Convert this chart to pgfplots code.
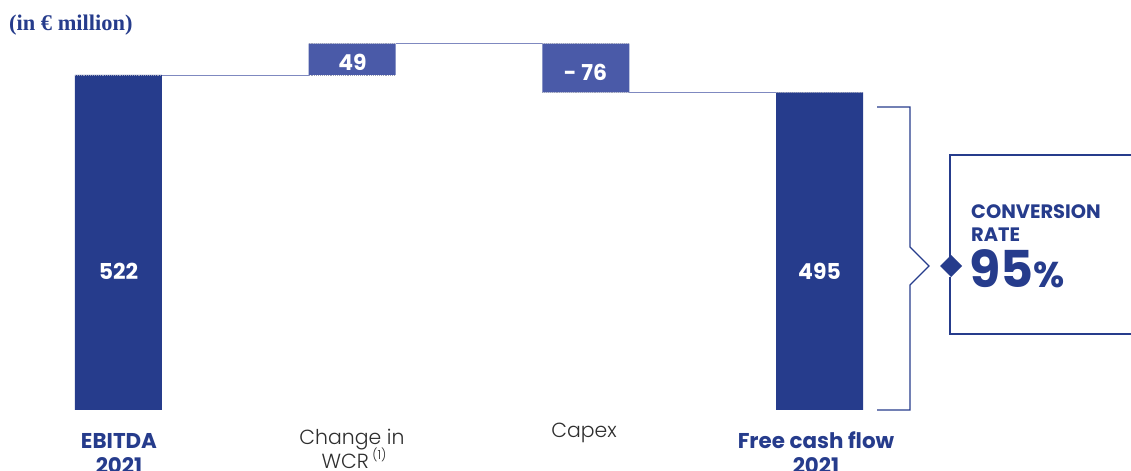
\documentclass[border=0pt]{standalone}
\usepackage{pgfplots}
\pgfplotsset{compat=1.18}
\usepackage{pgfplotstable}
\usepackage{fontspec}
\setmainfont{Poppins}
\newfontfamily\titlefont{Liberation Serif}
\newfontfamily\lightfont{Poppins Light}
\definecolor{navy}{HTML}{263C8C}
\definecolor{lightbar}{HTML}{4A5AA8}
\definecolor{conn}{HTML}{7F89C0}
\definecolor{dotgray}{HTML}{9A9FB8}
\definecolor{labgray}{HTML}{2E2E2E}

\pgfplotstableread{
x base dark light
0 0 522 0
1 522 0 49
2 495 0 76
3 0 495 0
}\wfdata

\begin{document}
\begin{tikzpicture}
\begin{axis}[at={(0,0)}, anchor=north west, scale only axis, width=1131bp, height=471bp,
 xmin=-0.5071, xmax=4.3330, ymin=-95.05, ymax=638.8, hide axis, clip=false,
 ybar stacked, bar width=87bp]
\addplot[draw=none, fill=none] table[x=x,y=base]{\wfdata};
\addplot[draw=none, fill=navy] table[x=x,y=dark]{\wfdata};
\addplot[draw=none, fill=lightbar] table[x=x,y=light]{\wfdata};
\end{axis}
\begin{axis}[at={(0,0)}, anchor=north west, scale only axis, width=1131bp, height=471bp,
 xmin=-0.5071, xmax=4.3330, ymin=-95.05, ymax=638.8, hide axis, clip=false]
\addplot[conn, line width=0.8bp, no marks] coordinates {(0.1862,522) (0.8138,522)};
\addplot[conn, line width=0.8bp, no marks] coordinates {(1.1862,571) (1.8138,571)};
\addplot[conn, line width=0.8bp, no marks] coordinates {(2.1862,495) (2.8138,495)};
\addplot[dotgray, line width=0.9bp, densely dotted, no marks] coordinates {(-0.1862,522) (0.1862,522)};
\addplot[dotgray, line width=0.9bp, densely dotted, no marks] coordinates {(0.8138,522) (1.1862,522)};
\addplot[dotgray, line width=0.9bp, densely dotted, no marks] coordinates {(0.8138,571) (1.1862,571)};
\addplot[dotgray, line width=0.9bp, densely dotted, no marks] coordinates {(1.8138,571) (2.1862,571)};
\addplot[dotgray, line width=0.9bp, densely dotted, no marks] coordinates {(1.8138,495) (2.1862,495)};
\addplot[dotgray, line width=0.9bp, densely dotted, no marks] coordinates {(2.8138,495) (3.1862,495)};
\end{axis}
\begin{scope}[x=1bp, y=-1bp]
% title
\node[anchor=base west, inner sep=0pt, text=navy, font=\titlefont\bfseries\fontsize{22.5}{26}\selectfont] at (9,30) {(in € million)};
% bar values
\node[anchor=base, inner sep=0pt, text=white, font=\bfseries\fontsize{22}{26}\selectfont] at (118.5,279) {522};
\node[anchor=base, inner sep=0pt, text=white, font=\bfseries\fontsize{22}{26}\selectfont] at (352.5,70) {49};
\node[anchor=base, inner sep=0pt, text=white, font=\bfseries\fontsize{22}{26}\selectfont] at (585.5,80) {- 76};
\node[anchor=base, inner sep=0pt, text=white, font=\bfseries\fontsize{22}{26}\selectfont] at (819.5,279) {495};
% category labels
\node[anchor=base, inner sep=0pt, text=navy, font=\bfseries\fontsize{21.5}{24}\selectfont] at (119,448) {EBITDA};
\node[anchor=base, inner sep=0pt, text=navy, font=\bfseries\fontsize{21.5}{24}\selectfont] at (119,473) {2021};
\node[anchor=base, inner sep=0pt, text=labgray, font=\lightfont\fontsize{20.5}{24}\selectfont] at (352,444) {Change in};
\node[anchor=base, inner sep=0pt, text=labgray, font=\lightfont\fontsize{20.5}{24}\selectfont] at (354,468) {WCR\,\raisebox{0.8ex}{\fontsize{12.5}{14}\selectfont(1)}};
\node[anchor=base, inner sep=0pt, text=labgray, font=\lightfont\fontsize{20.5}{24}\selectfont] at (584,437) {Capex};
\node[anchor=base, inner sep=0pt, text=navy, font=\bfseries\fontsize{21.5}{24}\selectfont] at (816,448) {Free cash flow};
\node[anchor=base, inner sep=0pt, text=navy, font=\bfseries\fontsize{21.5}{24}\selectfont] at (816,473) {2021};
% bracket
\draw[navy, line width=1.3bp] (877,107) -- (910,107) -- (910,247) -- (929,266) -- (910,285) -- (910,410) -- (877,410);
% box
\draw[navy, line width=1.6bp] (950,257) -- (950,155) -- (1140,155);
\draw[navy, line width=1.6bp] (950,277) -- (950,334) -- (1140,334);
\fill[navy] (951,255) -- (962,266) -- (951,277) -- (940,266) -- cycle;
\node[anchor=base west, inner sep=0pt, text=navy, font=\bfseries\fontsize{19.5}{22}\selectfont] at (971,218) {CONVERSION};
\node[anchor=base west, inner sep=0pt, text=navy, font=\bfseries\fontsize{19.5}{22}\selectfont] at (971,241) {RATE};
\node[anchor=base west, inner sep=0pt, text=navy, font=\bfseries\fontsize{51}{55}\selectfont] at (969,287) {95\fontsize{36}{40}\selectfont\%};
\end{scope}
\pgfresetboundingbox
\useasboundingbox (0,0) rectangle (1131bp,-471bp);
\end{tikzpicture}
\end{document}
